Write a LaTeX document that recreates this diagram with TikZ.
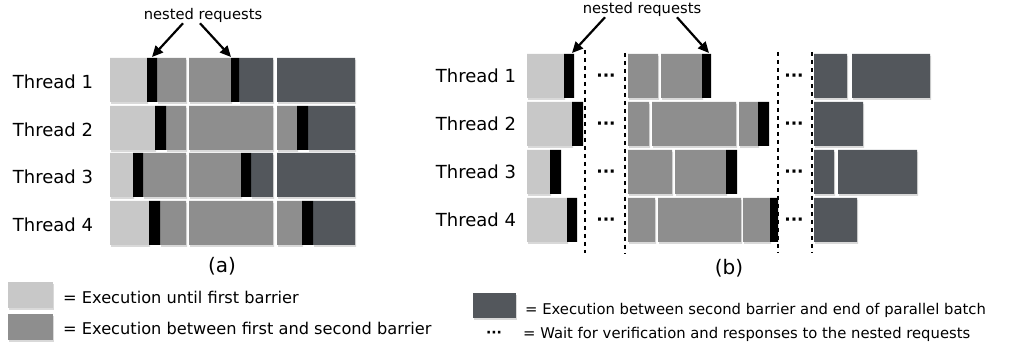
\documentclass[tikz,border=0pt]{standalone}
\usepackage{fontspec}
\setmainfont{DejaVu Sans}
\usetikzlibrary{arrows.meta}

\definecolor{untilfirst}{HTML}{C8C8C8}
\definecolor{betweenfirst}{HTML}{8E8E8E}
\definecolor{aftersecond}{HTML}{53575C}

\begin{document}
\begin{tikzpicture}[x=1pt, y=-1pt,
        shadowed/.style={preaction={fill=black, opacity=0.15, transform canvas={shift={(1pt,-2pt)}}}},
        first/.style={fill=untilfirst, shadowed},
        second/.style={fill=betweenfirst, shadowed},
        third/.style={fill=aftersecond, shadowed},
        barrier/.style={fill=black},
        waitline/.style={line width=2.5pt, dash pattern=on 4pt off 4pt},
        waitdots/.style={font=\fontsize{17}{18}\selectfont\bfseries, inner sep=0, anchor=base},
        thread/.style={font=\fontsize{18}{20}\selectfont, inner sep=0},
        nested/.style={font=\fontsize{14.7}{16}\selectfont, inner sep=0, anchor=base},
        caption/.style={font=\fontsize{20}{22}\selectfont, inner sep=0},
        legend/.style={inner sep=0, anchor=base west},
        request/.style={-{Triangle[length=11pt, width=10pt]}, line width=2.2pt}]
    \useasboundingbox (0,0) rectangle (1034,347);

    % (a) execution with barriers
        \node[thread] (ta1) at (53,82) {Thread 1};
        \node[thread] (ta2) at (53,130) {Thread 2};
        \node[thread] (ta3) at (53,177) {Thread 3};
        \node[thread] (ta4) at (53,225) {Thread 4};
        \fill[first] (110,58) rectangle (147,102) (110,106) rectangle (155,150)
            (110,153) rectangle (133,197) (110,201) rectangle (149,245);
        \fill[second] (157,58) rectangle (186,102) (189,58) rectangle (231,102)
            (166,106) rectangle (186,150) (189,106) rectangle (273,150) (277,106) rectangle (297,150)
            (143,153) rectangle (186,197) (189,153) rectangle (241,197)
            (160,201) rectangle (186,245) (189,201) rectangle (273,245) (277,201) rectangle (302,245);
        \fill[third] (239,58) rectangle (273,102) (277,58) rectangle (355,102)
            (308,106) rectangle (355,150)
            (251,153) rectangle (273,197) (277,153) rectangle (355,197)
            (313,201) rectangle (355,245);
        \fill[barrier] (147,58) rectangle (157,102) (231,58) rectangle (239,102)
            (155,106) rectangle (166,150) (297,106) rectangle (308,150)
            (133,153) rectangle (143,197) (241,153) rectangle (251,197)
            (149,201) rectangle (160,245) (302,201) rectangle (313,245);
        \node[caption] (capa) at (222,266) {(a)};

        % Draw arrows
        \node[nested] (nesta) at (203,20) {nested requests};
        \coordinate (reqa1) at (152,57);
        \coordinate (reqa2) at (231,57);
        \draw[request] ([xshift=-20pt]nesta.south) -- (reqa1);
        \draw[request] ([xshift=-3pt]nesta.south) -- (reqa2);

    % (b) execution with waiting for verification
        \node[thread] (tb1) at (476,76) {Thread 1};
        \node[thread] (tb2) at (476,124) {Thread 2};
        \node[thread] (tb3) at (476,172) {Thread 3};
        \node[thread] (tb4) at (476,220) {Thread 4};
        \fill[first] (527,54) rectangle (564,98) (527,102) rectangle (572,146)
            (527,150) rectangle (550,194) (527,198) rectangle (567,242);
        \fill[second] (628,54) rectangle (658,98) (661,54) rectangle (702,98)
            (628,102) rectangle (649,146) (652,102) rectangle (736,146) (739,102) rectangle (758,146)
            (628,150) rectangle (672,194) (675,150) rectangle (726,194)
            (628,198) rectangle (655,242) (658,198) rectangle (741,242) (743,198) rectangle (770,242);
        \fill[third] (814,54) rectangle (847,98) (852,54) rectangle (930,98)
            (814,102) rectangle (863,146)
            (814,150) rectangle (834,194) (838,150) rectangle (917,194)
            (814,198) rectangle (857,242);
        \fill[barrier] (564,54) rectangle (574,98) (572,102) rectangle (583,146)
            (550,150) rectangle (561,194) (567,198) rectangle (577,242)
            (702,54) rectangle (711,98) (758,102) rectangle (769,146)
            (726,150) rectangle (737,194) (770,198) rectangle (778,242);
        \draw[waitline] (585,50) -- (585,253);
        \draw[waitline] (625,53) -- (625,254);
        \draw[waitline] (778,52) -- (778,253);
        \draw[waitline] (812,52) -- (812,253);
        \node[waitdots] (wb1) at (606,82) {···};
        \node[waitdots] (wb2) at (606,130) {···};
        \node[waitdots] (wb3) at (606,178) {···};
        \node[waitdots] (wb4) at (606,226) {···};
        \node[waitdots] (wc1) at (794,82) {···};
        \node[waitdots] (wc2) at (794,130) {···};
        \node[waitdots] (wc3) at (794,178) {···};
        \node[waitdots] (wc4) at (794,226) {···};
        \node[caption] (capb) at (729,268) {(b)};

        % Draw arrows
        \node[nested] (nestb) at (642,14) {nested requests};
        \coordinate (reqb1) at (572,53);
        \coordinate (reqb2) at (709,53);
        \draw[request] ([xshift=-37pt]nestb.south) -- (reqb1);
        \draw[request] ([xshift=35pt]nestb.south) -- (reqb2);

    % Legend
        \fill[first] (8,282) rectangle (53,308);
        \fill[second] (8,314) rectangle (53,340);
        \node[legend, font=\fontsize{16.2}{18}\selectfont] (lega) at (63,304) {= Execution until first barrier};
        \node[legend, font=\fontsize{16.2}{18}\selectfont] (legb) at (63,335) {= Execution between first and second barrier};
        \fill[third] (473,293) rectangle (516,318);
        \node[legend, font=\fontsize{14.8}{16}\selectfont] (legc) at (525,315) {= Execution between second barrier and end of parallel batch};
        \node[waitdots, font=\fontsize{14}{16}\selectfont\bfseries] (legdots) at (494,338) {···};
        \node[legend, font=\fontsize{14.8}{16}\selectfont] (legd) at (523,339) {= Wait for verification and responses to the nested requests};
    \end{tikzpicture}
\end{document}
